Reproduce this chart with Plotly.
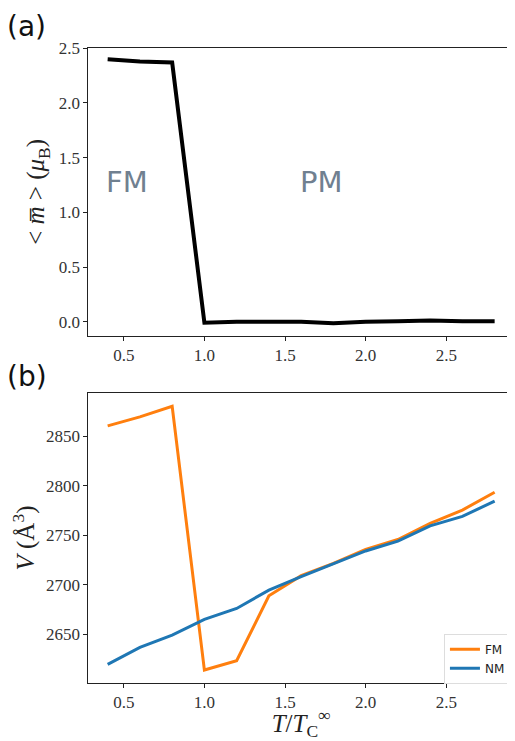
import plotly.graph_objects as go

T = [0.4, 0.6, 0.8, 1.0, 1.2, 1.4, 1.6, 1.8, 2.0, 2.2, 2.4, 2.6, 2.8]
m_avg = [2.40, 2.38, 2.37, -0.01, 0.0, 0.0, 0.0, -0.015, 0.0, 0.005, 0.01, 0.005, 0.005]
V_FM = [2860.4, 2869.5, 2880.3, 2613.6, 2623.0, 2688.7, 2709.0, 2721.4, 2735.5, 2745.6, 2761.8, 2775.3, 2793.4]
V_NM = [2619.4, 2636.5, 2649.0, 2664.8, 2675.9, 2694.4, 2708.0, 2720.7, 2734.0, 2744.0, 2759.4, 2769.0, 2784.3]
x_ticks = [0.5, 1.0, 1.5, 2.0, 2.5]
m_ticks = [0.0, 0.5, 1.0, 1.5, 2.0, 2.5]
V_ticks = [2650, 2700, 2750, 2800, 2850]

serif = "Liberation Serif, DejaVu Serif, serif"
sans = "DejaVu Sans, sans-serif"

W, H = 507, 733

fig = go.Figure()
fig.add_trace(go.Scatter(x=T, y=m_avg, mode="lines", line=dict(color="black", width=4),
                         showlegend=False, xaxis="x", yaxis="y"))
fig.add_trace(go.Scatter(x=T, y=V_FM, mode="lines", name="FM", line=dict(color="#ff7f0e", width=3),
                         xaxis="x2", yaxis="y2"))
fig.add_trace(go.Scatter(x=T, y=V_NM, mode="lines", name="NM", line=dict(color="#1f77b4", width=3),
                         xaxis="x2", yaxis="y2"))

axis_common = dict(showline=True, mirror=True, linecolor="#222", linewidth=1,
                   ticks="outside", ticklen=4, tickcolor="#222", showgrid=False, zeroline=False,
                   tickfont=dict(family=serif, size=17, color="#333"), automargin=False)

fig.update_layout(
    width=W, height=H,
    margin=dict(l=0, r=0, t=0, b=0),
    paper_bgcolor="white", plot_bgcolor="white",
    xaxis=dict(domain=[0.1584, 0.998], anchor="y", range=[0.28, 2.92],
               tickvals=x_ticks, ticktext=[f"{v:.1f}" for v in x_ticks], **axis_common),
    yaxis=dict(domain=[0.5525, 0.9458], anchor="x", range=[-0.131, 2.505],
               tickvals=m_ticks, ticktext=[f"{v:.1f}" for v in m_ticks],
               title=dict(text="&lt; <i>m̅</i> &gt; (<i>μ</i><sub>B</sub>)",
                          font=dict(family=serif, size=25, color="#222"), standoff=6),
               **axis_common),
    xaxis2=dict(domain=[0.1584, 0.998], anchor="y2", range=[0.28, 2.92],
                tickvals=x_ticks, ticktext=[f"{v:.1f}" for v in x_ticks],
                title=dict(text="<i>T</i>/<i>T</i><sub>C</sub><sup>∞</sup>",
                           font=dict(family=serif, size=25, color="#222"), standoff=2),
                **axis_common),
    yaxis2=dict(domain=[0.0795, 0.4744], anchor="x2", range=[2600.8, 2893.4],
                tickvals=V_ticks, ticktext=[str(v) for v in V_ticks],
                title=dict(text="<i>V</i> (Å<sup>3</sup>)",
                           font=dict(family=serif, size=25, color="#222"), standoff=6),
                **axis_common),
    legend=dict(x=0.992, y=0.078, xanchor="right", yanchor="bottom",
                bgcolor="white", bordercolor="#ddd", borderwidth=1,
                font=dict(family=sans, size=12, color="#222"),
                itemwidth=30, tracegroupgap=0),
    annotations=[
        dict(text="FM", x=0.52, y=1.28, xref="x", yref="y", showarrow=False,
             font=dict(family=sans, size=29, color="#708090")),
        dict(text="PM", x=1.725, y=1.28, xref="x", yref="y", showarrow=False,
             font=dict(family=sans, size=29, color="#708090")),
        dict(text="(a)", x=0.0, y=1.0, xref="paper", yref="paper", xanchor="left", yanchor="top",
             xshift=-3, showarrow=False, font=dict(family=sans, size=28, color="#111")),
        dict(text="(b)", x=0.0, y=(H - 350) / H, xref="paper", yref="paper", xanchor="left",
             yanchor="top", xshift=-3, showarrow=False, font=dict(family=sans, size=28, color="#111")),
    ],
)

fig.write_html("out.html")
